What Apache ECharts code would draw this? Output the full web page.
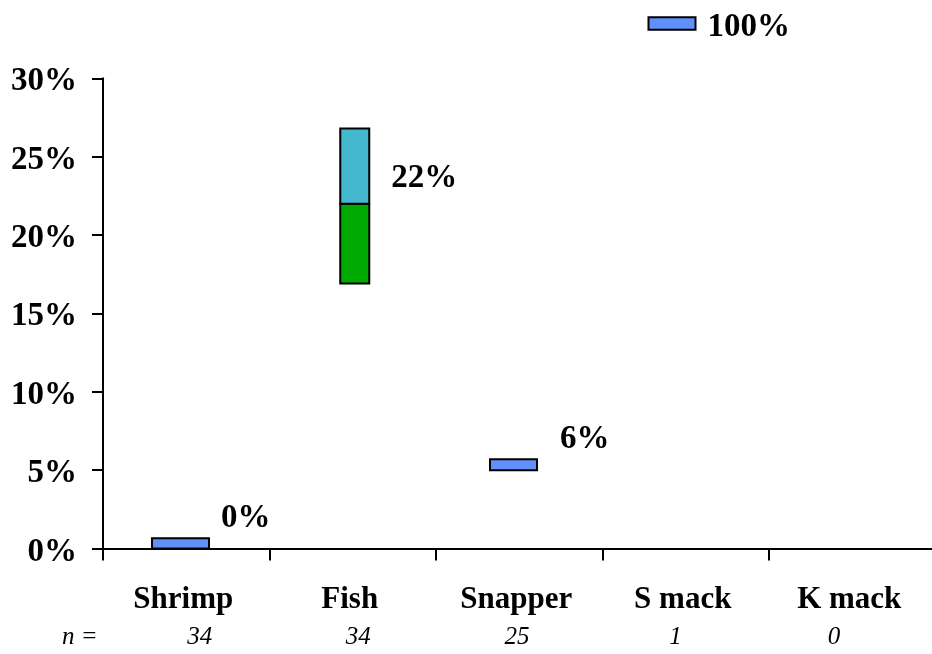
<!DOCTYPE html>
<html>
<head>
<meta charset="utf-8">
<script src="https://cdn.jsdelivr.net/npm/echarts@6/dist/echarts.min.js"></script>
<style>
  html, body { margin: 0; padding: 0; background: #ffffff; }
  #chart { width: 932px; height: 654px; }
</style>
</head>
<body>
<div id="chart"></div>
<script>
// Prevalence by prey type: point estimate plus interval box per category
const categories  = ['Shrimp', 'Fish', 'Snapper', 'S mack', 'K mack'];
const sampleSizes = ['34', '34', '25', '1', '0'];
const estimates   = [0, 22, 5.7, 100, null];
const lows        = [0, 16.9, 5.0, 99.2, null];
const highs       = [0.65, 26.8, 5.7, 100, null];
const yTickMin = 0, yTickMax = 30, yTickStep = 5;

// Layout for the boxes and their value labels (pixels)
const boxWidth   = [57, 29, 47, 47, 47];
const boxShift   = [-5.75, 2, -5.75, -13.75, 0];
const labelGap   = [12, 22, 23, 12, 12];
const labelLift  = [30.5, 25, 20, -4, 0];
const overflowTop = 33.9;   // values above the axis are drawn in this band

const FONT = '"Liberation Serif", "Times New Roman", serif';
const COL_SINGLE = '#6190fa';
const COL_LOWER  = '#00aa00';
const COL_UPPER  = '#44b8cf';

const seriesData = categories.map((c, i) => [i, lows[i], estimates[i], highs[i]]);

function renderItem(params, api) {
  const i = api.value(0);
  if (estimates[i] == null) return null;
  let lo = lows[i], est = estimates[i], hi = highs[i];
  // push values past the axis maximum into the overflow band above the plot
  const over = hi > yTickMax;
  if (over) {
    const s = overflowTop - hi;
    lo += s; est += s; hi += s;
  }
  const cx = api.coord([i, 0])[0] + boxShift[i];
  const w = boxWidth[i];
  const x0 = cx - w / 2;
  const yLo = api.coord([i, lo])[1];
  const yHi = api.coord([i, hi])[1];
  const yEst = api.coord([i, est])[1];
  const children = [];
  const border = { stroke: '#000', lineWidth: 2 };
  if (est > lo && est < hi) {
    children.push({ type: 'rect', shape: { x: x0, y: yEst, width: w, height: yLo - yEst },
      style: Object.assign({ fill: COL_LOWER }, border) });
    children.push({ type: 'rect', shape: { x: x0, y: yHi, width: w, height: yEst - yHi },
      style: Object.assign({ fill: COL_UPPER }, border) });
  } else {
    children.push({ type: 'rect', shape: { x: x0, y: yHi, width: w, height: yLo - yHi },
      style: Object.assign({ fill: COL_SINGLE }, border) });
  }
  const labelY = over ? (yHi + yLo) / 2 - labelLift[i] : yEst - labelLift[i];
  children.push({ type: 'text', style: {
    text: Math.round(estimates[i]) + '%', x: x0 + w + labelGap[i], y: labelY,
    fill: '#000', font: 'bold 33px ' + FONT, align: 'left', verticalAlign: 'middle' } });
  return { type: 'group', children: children };
}

const chart = echarts.init(document.getElementById('chart'), null, { renderer: 'canvas' });
chart.setOption({
  animation: false,
  backgroundColor: '#ffffff',
  grid: [
    { left: 103, top: 78.3, width: 832.5, bottom: 105.5, containLabel: false, outerBoundsMode: 'none' },
    { left: 120.4, top: 78.3, width: 793, bottom: 105.5, containLabel: false, outerBoundsMode: 'none' }
  ],
  xAxis: [
    {
      type: 'category', gridIndex: 0, data: categories, boundaryGap: true,
      axisLine: { show: true, lineStyle: { color: '#000', width: 2 } },
      axisTick: { show: true, length: 12, interval: 0, lineStyle: { color: '#000', width: 2 } },
      axisLabel: { interval: 0, margin: 36, padding: [0, 6, 0, 0], color: '#000',
        fontFamily: FONT, fontWeight: 'bold', fontSize: 31 },
      splitLine: { show: false }
    },
    {
      type: 'category', gridIndex: 1, data: sampleSizes, boundaryGap: true,
      axisLine: { show: false }, axisTick: { show: false },
      axisLabel: { interval: 0, margin: 76, color: '#000', fontFamily: FONT, fontStyle: 'italic', fontSize: 25 },
      splitLine: { show: false }
    }
  ],
  yAxis: [
    {
      type: 'value', gridIndex: 0, min: yTickMin, max: yTickMax, interval: yTickStep,
      axisLine: { show: true, lineStyle: { color: '#000', width: 2 } },
      axisTick: { show: true, length: 11, lineStyle: { color: '#000', width: 2 } },
      axisLabel: {
        formatter: '{t|{value}%}', margin: 26, color: '#000',
        rich: { t: { padding: [7, 0, 0, 0], fontFamily: FONT, fontWeight: 'bold', fontSize: 33, color: '#000' } }
      },
      splitLine: { show: false }
    },
    { type: 'value', gridIndex: 1, min: yTickMin, max: yTickMax, show: false }
  ],
  graphic: [
    { type: 'text', left: 62, top: 625, style: { text: 'n =', fill: '#000', font: 'italic 25px ' + FONT } }
  ],
  series: [
    {
      type: 'custom', xAxisIndex: 0, yAxisIndex: 0, clip: false,
      renderItem: renderItem, data: seriesData
    }
  ]
});
</script>
</body>
</html>
